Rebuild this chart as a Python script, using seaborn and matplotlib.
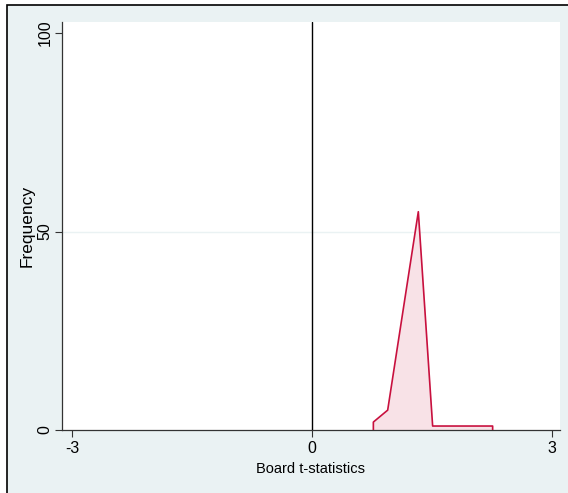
import matplotlib
matplotlib.use("Agg")
import matplotlib.pyplot as plt
import numpy as np
import pandas as pd
import seaborn as sns
from matplotlib.patches import Rectangle

# Frequency polygon of board t-statistics
t_stat = [0.767, 0.946, 1.329, 1.508, 2.258]
frequency = [2, 5, 55, 1, 1]

x_ticks = [-3, 0, 3]
y_ticks = [0, 50, 100]

BG = "#EAF2F3"
LINE = "#C8103E"
FILL = "#F8E2E7"

sns.set_theme(style="white")
plt.rcParams["font.family"] = ["Liberation Sans", "DejaVu Sans"]
plt.rcParams["text.color"] = "black"
plt.rcParams["axes.labelcolor"] = "black"
plt.rcParams["xtick.color"] = "black"
plt.rcParams["ytick.color"] = "black"

fig = plt.figure(figsize=(5.68, 4.93), dpi=100, facecolor="white")

# outer graph region with its frame on the top and left
fig.patches.append(Rectangle((7 / 568, -0.1), 1.2, 1.1 - 5 / 493,
                             transform=fig.transFigure, facecolor=BG,
                             edgecolor="black", linewidth=1.2, zorder=-10))

ax = fig.add_axes([62 / 568, 1 - 430 / 493, 498 / 568, 408 / 493])
ax.set_facecolor("white")

df = pd.DataFrame({"t": t_stat, "freq": frequency})
ax.fill_between(df["t"], 0, df["freq"], color=FILL, linewidth=0, zorder=2)

# outline closed down to the baseline at both ends
outline = pd.DataFrame({
    "t": [t_stat[0]] + t_stat + [t_stat[-1]],
    "freq": [0] + frequency + [0],
})
sns.lineplot(data=outline, x="t", y="freq", sort=False, estimator=None,
             color=LINE, linewidth=1.2, ax=ax, zorder=3)

ax.axvline(0, color="black", linewidth=1.0, zorder=4)
ax.axhline(50, color=BG, linewidth=1.0, zorder=1)

ax.set_xlim(-3.125, 3.1)
ax.set_ylim(0, 102.8)
ax.set_xticks(x_ticks)
ax.set_yticks(y_ticks)
ax.set_xticklabels([str(v) for v in x_ticks], fontsize=11.5)
ax.set_yticklabels([str(v) for v in y_ticks], fontsize=11.5,
                   rotation=90, va="center")
ax.tick_params(axis="x", direction="out", length=5, width=0.8,
               color="#333333", labelcolor="black", pad=3, bottom=True)
ax.tick_params(axis="y", direction="out", length=5, width=0.8,
               color="#333333", labelcolor="black", pad=2, left=True)
ax.set_xlabel("Board t-statistics", fontsize=10.5, labelpad=4)
ax.set_ylabel("Frequency", fontsize=12.5, labelpad=2)

for side in ["top", "right"]:
    ax.spines[side].set_visible(False)
for side in ["left", "bottom"]:
    ax.spines[side].set_color("#333333")
    ax.spines[side].set_linewidth(0.9)

fig.savefig("out.png", dpi=100, facecolor="white")
